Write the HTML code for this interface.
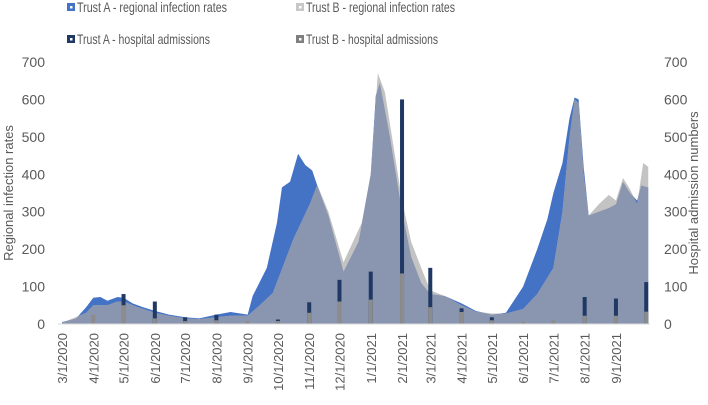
<!DOCTYPE html>
<html><head><meta charset="utf-8"><style>
body{margin:0;background:#fff;font-family:"Liberation Sans",sans-serif;}
svg text{font-family:"Liberation Sans",sans-serif;fill:#595959;}
</style></head><body>
<svg id="chart" width="708" height="400">
<defs><clipPath id="clipB"><path id="clipPathB"/></clipPath></defs>
<g id="legend">
 <g><rect x="67" y="3" width="8" height="8" fill="#4472c4"/><rect x="70" y="6" width="2.5" height="2.5" fill="#fff"/><text x="77" y="12" font-size="14" textLength="150" lengthAdjust="spacingAndGlyphs">Trust A - regional infection rates</text></g>
 <g><rect x="296" y="3" width="8" height="8" fill="#c8c8c8"/><rect x="299" y="6" width="2.5" height="2.5" fill="#fff"/><text x="306" y="12" font-size="14" textLength="149" lengthAdjust="spacingAndGlyphs">Trust B - regional infection rates</text></g>
 <g><rect x="67" y="35" width="8" height="8" fill="#203864"/><rect x="70" y="38" width="2.5" height="2.5" fill="#fff"/><text x="77" y="44" font-size="14" textLength="133" lengthAdjust="spacingAndGlyphs">Trust A - hospital admissions</text></g>
 <g><rect x="296" y="35" width="8" height="8" fill="#7f7f7f"/><rect x="299" y="38" width="2.5" height="2.5" fill="#fff"/><text x="306" y="44" font-size="14" textLength="132" lengthAdjust="spacingAndGlyphs">Trust B - hospital admissions</text></g>
</g>
<text transform="translate(13,193) rotate(-90)" text-anchor="middle" font-size="13">Regional infection rates</text>
<text transform="translate(698,193) rotate(-90)" text-anchor="middle" font-size="13">Hospital admission numbers</text>
<g id="plot"></g>
</svg>
<script>
const ticks=[0,100,200,300,400,500,600,700];
const months=["3/1/2020","4/1/2020","5/1/2020","6/1/2020","7/1/2020","8/1/2020","9/1/2020","10/1/2020","11/1/2020","12/1/2020","1/1/2021","2/1/2021","3/1/2021","4/1/2021","5/1/2021","6/1/2021","7/1/2021","8/1/2021","9/1/2021"];
const aDates=["2020-03-01","2020-03-15","2020-03-25","2020-04-01","2020-04-08","2020-04-15","2020-04-25","2020-05-01","2020-05-10","2020-05-20","2020-06-01","2020-06-15","2020-07-01","2020-07-15","2020-08-01","2020-08-15","2020-09-01","2020-09-06","2020-09-20","2020-09-30","2020-10-05","2020-10-13","2020-10-21","2020-10-28","2020-11-04","2020-11-09","2020-11-20","2020-12-05","2020-12-20","2021-01-01","2021-01-06","2021-01-10","2021-01-20","2021-02-01","2021-02-10","2021-02-20","2021-03-01","2021-03-15","2021-04-01","2021-04-15","2021-05-01","2021-05-15","2021-06-01","2021-06-15","2021-06-25","2021-07-01","2021-07-10","2021-07-17","2021-07-22","2021-07-26","2021-07-31","2021-08-05","2021-08-15","2021-08-25","2021-09-01","2021-09-08","2021-09-15","2021-09-22","2021-09-26","2021-10-03"];
const aVals=[5,15,45,70,72,62,72,70,55,45,35,25,18,15,25,32,25,75,150,270,365,380,455,425,410,370,290,140,220,400,610,645,500,300,180,110,80,75,55,35,25,30,100,200,280,350,430,550,605,600,420,290,300,310,320,380,350,330,370,365];
const bDates=["2020-03-01","2020-03-25","2020-04-01","2020-04-15","2020-04-25","2020-05-01","2020-05-15","2020-06-01","2020-06-15","2020-07-01","2020-07-15","2020-08-01","2020-08-15","2020-09-01","2020-09-13","2020-09-26","2020-10-16","2020-11-02","2020-11-09","2020-11-20","2020-12-05","2020-12-23","2021-01-01","2021-01-08","2021-01-15","2021-01-25","2021-02-01","2021-02-10","2021-02-20","2021-03-01","2021-03-15","2021-04-01","2021-04-15","2021-05-01","2021-05-15","2021-06-01","2021-06-15","2021-07-01","2021-07-10","2021-07-17","2021-07-22","2021-07-26","2021-07-31","2021-08-05","2021-08-15","2021-08-25","2021-09-01","2021-09-08","2021-09-15","2021-09-22","2021-09-28","2021-10-03"];
const bVals=[3,30,50,50,60,60,45,30,22,15,13,18,22,22,50,83,225,323,372,300,165,270,400,670,620,450,330,220,150,90,75,50,33,28,28,40,80,150,300,500,600,590,400,290,320,345,330,390,360,320,430,420];
const barDates=["2020-04-01","2020-05-01","2020-06-01","2020-07-01","2020-08-01","2020-09-01","2020-10-01","2020-11-01","2020-12-01","2021-01-01","2021-02-01","2021-03-01","2021-04-01","2021-05-01","2021-06-01","2021-07-01","2021-08-01","2021-09-01","2021-10-01"];
const admA=[0,80,60,18,25,0,12,58,118,140,600,150,42,18,0,0,72,68,112];
const admB=[25,50,15,8,10,8,8,30,60,65,135,45,32,10,7,10,22,22,33];

const NS="http://www.w3.org/2000/svg";
const X0=62,Y0=324,PXD=1.009,PXV=262/700;
const t0=Date.UTC(2020,2,1);
function day(s){const p=s.split("-");return (Date.UTC(+p[0],p[1]-1,+p[2])-t0)/864e5;}
function mday(s){const p=s.split("/");return (Date.UTC(+p[2],p[0]-1,+p[1])-t0)/864e5;}
const xs=d=>X0+d*PXD, ys=v=>Y0-v*PXV;
const plot=document.getElementById("plot");
function mk(tag,attrs,parent){const e=document.createElementNS(NS,tag);for(const k in attrs)e.setAttribute(k,attrs[k]);(parent||plot).appendChild(e);return e;}
function area(dates,vals){let d=`M${xs(day(dates[0]))},${Y0}`;dates.forEach((dt,i)=>d+=`L${xs(day(dt))},${ys(vals[i])}`);d+=`L${xs(day(dates[dates.length-1]))},${Y0}Z`;return d;}
const pa=area(aDates,aVals),pb=area(bDates,bVals);
document.getElementById("clipPathB").setAttribute("d",pb);
let e=mk("path",{d:pa,fill:"#4472c4"});


e=mk("path",{d:pb,fill:"#c3c3c3"});


e=mk("path",{d:pa,fill:"#8a96b0","clip-path":"url(#clipB)"});


barDates.forEach((dt,i)=>{const x=xs(day(dt))-2;
 let b=mk("rect",{x:x,y:ys(admA[i]),width:4,height:admA[i]*PXV,fill:"#203864"});
 
 
 b=mk("rect",{x:x,y:ys(admB[i]),width:4,height:admB[i]*PXV,fill:"#8c8c8c"});
 
 
});
e=mk("line",{x1:58,x2:650,y1:Y0,y2:Y0,stroke:"#d9d9d9","stroke-width":1});


ticks.forEach(v=>{
 let t=mk("text",{x:45,y:ys(v)+5,"text-anchor":"end","font-size":14});t.textContent=v;
 
 
 t=mk("text",{x:664,y:ys(v)+5,"font-size":14});t.textContent=v;
 
 
});
months.forEach(m=>{const x=xs(mday(m));
 const t=mk("text",{transform:`translate(${x+5},333) rotate(-90)`,"text-anchor":"end","font-size":13});t.textContent=m;
 
 
});
</script>
</body></html>
